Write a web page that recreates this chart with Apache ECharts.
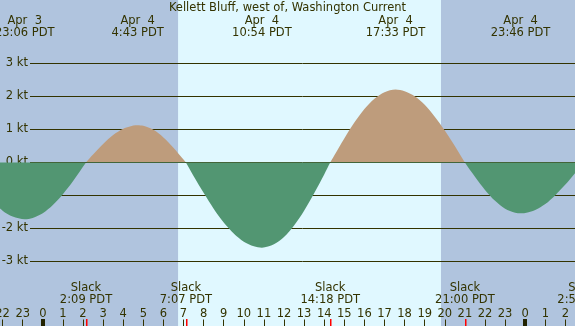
<!DOCTYPE html>
<html>
<head>
<meta charset="utf-8">
<script src="https://cdn.jsdelivr.net/npm/echarts@6/dist/echarts.min.js"></script>
<style>
html, body { margin: 0; padding: 0; }
#chart { width: 575px; height: 326px; }
</style>
</head>
<body>
<div id="chart"></div>
<script>
// hours since Apr 4 00:00 PDT, current in knots
var hours = [-3, -2.5, -2, -1.5, -0.9, -0.5, 0, 0.5, 1, 1.5, 2.15,
	2.5, 3, 3.5, 4, 4.5, 4.72, 5, 5.5, 6, 6.5, 7, 7.12,
	7.5, 8, 8.5, 9, 9.5, 10, 10.5, 10.9, 11.5, 12, 12.5, 13, 13.5, 14, 14.3,
	14.5, 15, 15.5, 16, 16.5, 17, 17.55, 18, 18.5, 19, 19.5, 20, 20.5, 21,
	21.5, 22, 22.5, 23, 23.5, 23.77, 24, 24.5, 25, 25.5, 26, 26.5, 26.9];
var knots = [-0.84, -1.18, -1.46, -1.64, -1.72, -1.68, -1.54, -1.29, -0.96, -0.57, 0,
	0.24, 0.56, 0.83, 1.02, 1.12, 1.13, 1.11, 0.99, 0.76, 0.45, 0.09, 0,
	-0.41, -0.92, -1.40, -1.82, -2.15, -2.40, -2.54, -2.58, -2.48, -2.26, -1.91, -1.46, -0.93, -0.36, 0,
	0.21, 0.73, 1.21, 1.62, 1.93, 2.13, 2.21, 2.16, 2.01, 1.75, 1.39, 0.97, 0.50, 0,
	-0.43, -0.83, -1.16, -1.40, -1.52, -1.54, -1.53, -1.44, -1.26, -0.99, -0.67, -0.31, 0];

var daylight = [6.73, 19.81];
var midnights = [0, 24];
var slackHours = [2.15, 7.12, 14.3, 21.0, 26.9];
var slackTimes = ['2:09 PDT', '7:07 PDT', '14:18 PDT', '21:00 PDT', '2:54 PDT'];
var peakHours = [-0.9, 4.72, 10.9, 17.55, 23.77];
var peakDays = ['Apr  3', 'Apr  4', 'Apr  4', 'Apr  4', 'Apr  4'];
var peakTimes = ['23:06 PDT', '4:43 PDT', '10:54 PDT', '17:33 PDT', '23:46 PDT'];

var nightColor = '#b0c4de';
var dayColor = '#e0f8ff';
var ebbColor = '#529672';
var floodColor = '#be9c7c';
var inkColor = '#333300';
var font = '11.5px "DejaVu Sans"';

var chart = echarts.init(document.getElementById('chart'));

function textItem(txt, y) {
	return function (params, api) {
		var x = api.coord([api.value(0), 0])[0];
		return {
			type: 'text',
			style: {
				x: x, y: y, text: txt[params.dataIndex],
				align: 'center', verticalAlign: 'middle',
				font: font, fill: inkColor, lineHeight: 12
			}
		};
	};
}

var option = {
	backgroundColor: nightColor,
	animation: false,
	title: {
		text: 'Kellett Bluff, west of, Washington Current',
		left: 'center',
		top: 2.5,
		padding: 0,
		textStyle: { fontFamily: 'DejaVu Sans', fontSize: 11.5, fontWeight: 'normal', color: inkColor }
	},
	grid: [
		{ left: -17.5, right: -10.5, top: -2.5, bottom: -1.5, outerBoundsMode: 'none' },
		{ left: 30, right: 0, top: 63.5, bottom: 64.5, outerBoundsMode: 'none' }
	],
	xAxis: [{
		gridIndex: 0,
		type: 'value',
		min: -3,
		max: 27,
		interval: 1,
		axisLine: { show: false, onZero: false },
		axisTick: { inside: true, length: 8, lineStyle: { color: inkColor } },
		axisLabel: {
			inside: true, margin: 7, color: inkColor, fontFamily: 'DejaVu Sans', fontSize: 11.5,
			formatter: function (v) { return String(((v % 24) + 24) % 24); }
		},
		splitLine: { show: false }
	}, {
		gridIndex: 1, type: 'value', min: 0, max: 1, show: false
	}],
	yAxis: [{
		gridIndex: 0, type: 'value', min: -5, max: 5, show: false
	}, {
		gridIndex: 1,
		type: 'value',
		min: -3,
		max: 3,
		interval: 1,
		z: 1,
		axisLine: { show: false },
		axisTick: { show: false },
		axisLabel: {
			margin: 2, color: inkColor, fontFamily: 'DejaVu Sans', fontSize: 11.5,
			formatter: function (v) { return v + ' kt'; }
		},
		splitLine: { lineStyle: { color: inkColor, width: 1 } }
	}],
	visualMap: {
		type: 'piecewise',
		show: false,
		seriesIndex: 1,
		dimension: 1,
		pieces: [{ gte: -10, lt: 0, color: ebbColor }, { gte: 0, lte: 10, color: floodColor }]
	},
	series: [{
		type: 'custom',
		z: 0,
		silent: true,
		data: [daylight],
		renderItem: function (params, api) {
			var x0 = api.coord([api.value(0), 0])[0];
			var x1 = api.coord([api.value(1), 0])[0];
			return { type: 'rect', shape: { x: x0, y: 0, width: x1 - x0, height: 326 }, style: { fill: dayColor } };
		}
	}, {
		type: 'line',
		z: 2,
		data: hours.map(function (h, i) { return [h, knots[i]]; }),
		smooth: 0.3,
		symbol: 'none',
		lineStyle: { width: 0 },
		areaStyle: { opacity: 1 }
	}, {
		type: 'custom',
		z: 3,
		silent: true,
		data: midnights.map(function (h) { return [h, 0]; }),
		renderItem: function (params, api) {
			var x = api.coord([api.value(0), 0])[0];
			return { type: 'rect', shape: { x: Math.round(x) - 2, y: 319, width: 4, height: 8 }, style: { fill: '#222200' } };
		}
	}, {
		type: 'custom',
		z: 3,
		silent: true,
		data: slackHours.map(function (h) { return [h, 0]; }),
		renderItem: function (params, api) {
			var x = api.coord([api.value(0), 0])[0];
			return { type: 'rect', shape: { x: Math.round(x), y: 319, width: 1.5, height: 8 }, style: { fill: '#ff0000' } };
		}
	}, {
		type: 'custom',
		z: 3,
		silent: true,
		data: peakHours.map(function (h) { return [h, 0]; }),
		renderItem: textItem(peakDays.map(function (d, i) { return d + '\n' + peakTimes[i]; }), 27)
	}, {
		type: 'custom',
		z: 3,
		silent: true,
		data: slackHours.map(function (h) { return [h, 0]; }),
		renderItem: textItem(slackTimes.map(function (t) { return 'Slack\n' + t; }), 294)
	}]
};

chart.setOption(option);
</script>
</body>
</html>
